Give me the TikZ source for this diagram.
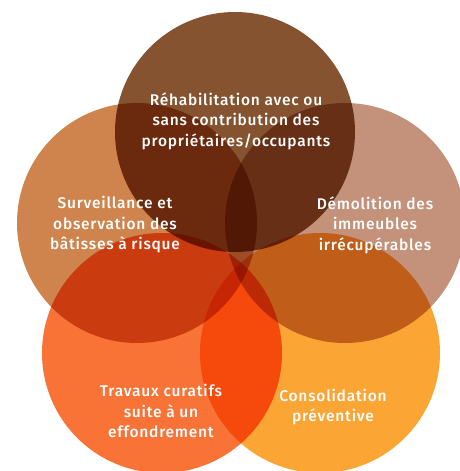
\documentclass[tikz,border=0pt]{standalone}
\usepackage{fontspec}
\setmainfont{Fira Sans}[UprightFont=* Medium]
\definecolor{brunRehab}{HTML}{85532F}
\definecolor{ocreSurv}{HTML}{CF844D}
\definecolor{roseDemol}{HTML}{C4927B}
\definecolor{orangeTrav}{HTML}{F97337}
\definecolor{jauneConso}{HTML}{FBA535}
\begin{document}
\begin{tikzpicture}[x=1pt, y=-1pt, line join=round, line cap=round,
	etiquette/.style={text=white, align=center, font=\fontsize{15.5}{20.5}\selectfont\addfontfeatures{LetterSpace=5}}]
		\def\r{120}
		\useasboundingbox (0,0) rectangle (459,471);
		\clip (0,0) rectangle (459,471);
		\coordinate (rehab) at (235,132);
		\coordinate (surv) at (137,223);
		\coordinate (demol) at (345,223);
		\coordinate (trav) at (162,353);
		\coordinate (conso) at (320,353);
		% disques superposes (multiplication des couleurs)
		\begin{scope}[blend group=multiply]
		\fill[ocreSurv] (surv) circle (\r);
		\fill[roseDemol] (demol) circle (\r);
		\fill[orangeTrav] (trav) circle (\r);
		\fill[jauneConso] (conso) circle (\r);
		\fill[brunRehab] (rehab) circle (\r);
		\end{scope}
		\node[etiquette] (tRehab) at (236,121) {Réhabilitation avec ou\\sans contribution des\\propriétaires/occupants};
		\node[etiquette] (tSurv) at (115,225) {Surveillance et\\observation des\\bâtisses à risque};
		\node[etiquette] (tDemol) at (375,225) {Démolition des\\immeubles\\irrécupérables};
		\node[etiquette] (tTrav) at (161,411) {Travaux curatifs\\suite à un\\effondrement};
		\node[etiquette] (tConso) at (333,407) {Consolidation\\préventive};
	\end{tikzpicture}
\end{document}
